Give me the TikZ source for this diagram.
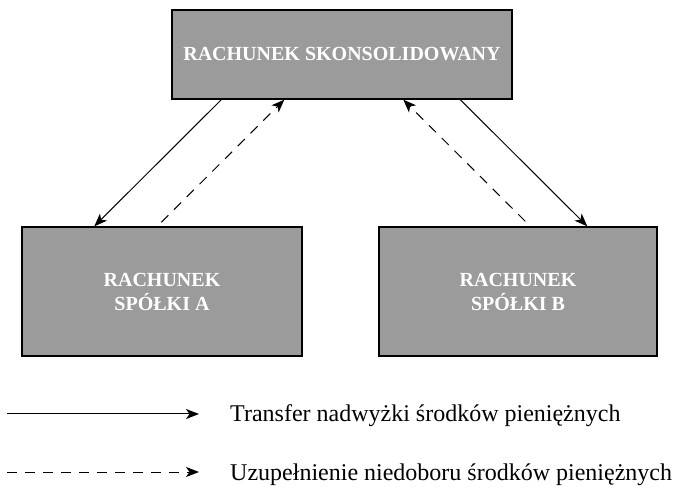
\documentclass[tikz,border=0pt]{standalone}
\usepackage{fontspec}
\setmainfont{Liberation Serif}
\usetikzlibrary{arrows.meta,calc}
\definecolor{boxgray}{RGB}{155,155,155}
\tikzset{
  acct/.style={draw=black, line width=1.4pt, fill=boxgray, inner sep=0pt,
    align=center, text=white, font=\fontsize{20}{24}\selectfont\bfseries},
  flow/.style={line width=1pt, -{Stealth[length=13pt,width=10pt,inset=3.5pt]}},
  refill/.style={flow, dash pattern=on 10pt off 8pt},
  legendtext/.style={anchor=base west, inner sep=0pt, font=\fontsize{24}{28}\selectfont}
}
\begin{document}
\begin{tikzpicture}[x=1pt,y=-1pt]
\useasboundingbox (0,0) rectangle (673,489);
\node[acct, minimum width=340pt, minimum height=89pt] (top) at (342,54.5) {RACHUNEK SKONSOLIDOWANY};
\node[acct, minimum width=280pt, minimum height=129pt] (sa) at (162,291.5) {RACHUNEK\\SPÓŁKI A};
\node[acct, minimum width=278pt, minimum height=129pt] (sb) at (518,291.5) {RACHUNEK\\SPÓŁKI B};
% connectors
\draw[flow] ($(top.south west)+(50,0)$) -- ($(sa.north west)+(73,0)$);
\draw[refill] ($(sa.north west)+(140,-4)$) -- ($(top.south west)+(113,0)$);
\draw[refill] ($(sb.north west)+(147,-5)$) -- ($(top.south west)+(232,0)$);
\draw[flow] ($(top.south west)+(289,0)$) -- ($(sb.north west)+(209,0)$);
% legend
\coordinate (l1a) at (7,414);
\coordinate (l1b) at (199,414);
\coordinate (l2a) at (7,472);
\coordinate (l2b) at (199,472);
\draw[flow] (l1a) -- (l1b);
\draw[refill] (l2a) -- (l2b);
\node[legendtext] (t1) at (230,422) {Transfer nadwyżki środków pieniężnych};
\node[legendtext] (t2) at (230,480) {Uzupełnienie niedoboru środków pieniężnych};
\end{tikzpicture}
\end{document}
